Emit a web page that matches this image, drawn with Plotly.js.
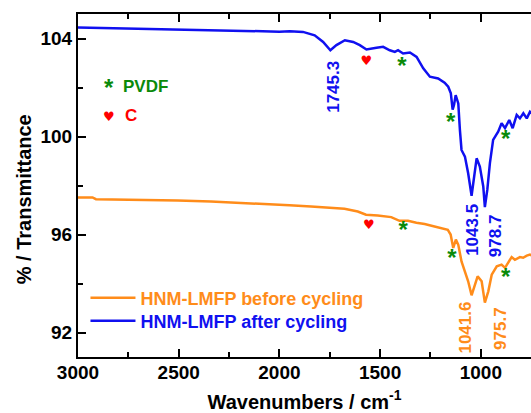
<!DOCTYPE html>
<html>
<head>
<meta charset="utf-8">
<script src="https://cdn.plot.ly/plotly-3.0.1.min.js"></script>
<style>
html,body{margin:0;padding:0;background:#fff;}
#chart{width:531px;height:413px;}
</style>
</head>
<body>
<div id="chart"></div>
<script>
// ---- data ----
const wnAfter = [3000,2900,2800,2700,2600,2500,2400,2300,2200,2100,2000,1949,1883,1825,1783,1747,1717,1675,1634,1601,1568,1518,1485,1452,1427,1411,1386,1352,1319,1286,1253,1212,1180,1162,1149,1140,1133,1125,1112,1104,1096,1079,1063,1046,1035,1021,1005,988,980,968,955,939,914,897,880,859,842,822,806,789,772,756,748];
const tAfter = [104.45,104.43,104.41,104.39,104.37,104.35,104.33,104.31,104.29,104.27,104.28,104.30,104.27,104.13,103.86,103.52,103.73,103.93,103.86,103.73,103.55,103.62,103.66,103.52,103.45,103.52,103.39,103.43,103.25,102.78,102.44,102.37,102.20,102.03,101.76,101.10,101.30,101.69,101.35,100.27,99.45,99.18,98.50,97.58,98.23,99.11,98.77,97.96,97.12,97.82,98.91,99.86,100.20,100.54,100.34,100.67,100.34,100.88,100.74,100.95,100.74,101.01,100.95];

const wnBefore = [3000,2928,2911,2800,2671,2505,2340,2200,2091,1950,1843,1750,1677,1611,1570,1512,1445,1404,1362,1320,1279,1240,1197,1164,1150,1137,1124,1112,1096,1079,1063,1046,1030,1016,996,980,963,946,921,897,880,864,847,831,806,790,772,756,748];
const tBefore = [97.51,97.51,97.44,97.43,97.42,97.39,97.35,97.30,97.24,97.19,97.14,97.10,97.05,96.94,96.81,96.78,96.71,96.56,96.56,96.48,96.43,96.35,96.26,96.19,96.00,95.45,95.79,95.58,94.90,94.50,94.09,93.52,93.95,94.29,94.09,93.22,93.68,94.36,94.70,94.77,94.64,94.84,95.08,94.97,95.08,95.05,95.14,95.18,95.15];

const seriesNames = ["HNM-LMFP before cycling","HNM-LMFP after cycling"];

// PVDF (*) and carbon (♥) marks
const pvdfWn = [1392,1150,877,1386,1144,877];
const pvdfT  = [102.79,100.51,99.82,96.10,94.94,94.19];
const carbonWn = [1568,1556];
const carbonT  = [103.05,96.37];

// peak labels
const peakText  = ["1745.3","1043.5","978.7","1041.6","975.7"];
const peakWn    = [1735,1039,930,1074,903];
const peakT     = [102.02,96.19,95.97,92.20,92.16];
const peakColor = ["#1010f0","#1010f0","#1010f0","#ff8c1a","#ff8c1a"];

const xTickVals = [3000,2500,2000,1500,1000];
const yTickVals = [92,96,100,104];

// ---- styles ----
const BLUE = "#1010f0", ORANGE = "#ff8c1a", GREEN = "#0a8a0a", RED = "#ff0000";
const FONT = "Liberation Sans, Arial, sans-serif";

const traces = [
  {x: wnBefore, y: tBefore, mode: "lines", legend: "legend",
   name: '<span style="color:'+ORANGE+'">'+seriesNames[0]+'</span>',
   line: {color: ORANGE, width: 2.5}},
  {x: wnAfter, y: tAfter, mode: "lines", legend: "legend2",
   name: '<span style="color:'+BLUE+'">'+seriesNames[1]+'</span>',
   line: {color: BLUE, width: 2.5}},
  {x: pvdfWn, y: pvdfT, mode: "text", text: pvdfWn.map(() => "*"), showlegend: false,
   textfont: {family: FONT, size: 24, color: GREEN, weight: "bold"}, textposition: "middle center", hoverinfo: "skip"},
  {x: carbonWn, y: carbonT, mode: "text", text: carbonWn.map(() => "♥"), showlegend: false,
   textfont: {family: "DejaVu Sans", size: 13, color: RED}, textposition: "middle center", hoverinfo: "skip"}
];

const annotations = peakText.map((t, i) => ({
  x: peakWn[i], y: peakT[i], xref: "x", yref: "y", text: t, showarrow: false,
  textangle: -90, font: {family: FONT, size: 17, color: peakColor[i], weight: "bold"},
  xanchor: "center", yanchor: "middle"
}));

annotations.push(
  {x: 2848, y: 101.98, xref: "x", yref: "y", text: "*", showarrow: false,
   font: {family: FONT, size: 24, color: GREEN, weight: "bold"}},
  {x: 2665, y: 102.06, xref: "x", yref: "y", text: "PVDF", showarrow: false,
   font: {family: FONT, size: 17, color: GREEN, weight: "bold"}},
  {x: 2845, y: 100.80, xref: "x", yref: "y", text: "♥", showarrow: false,
   font: {family: "DejaVu Sans", size: 13, color: RED}},
  {x: 2737, y: 100.84, xref: "x", yref: "y", text: "C", showarrow: false,
   font: {family: FONT, size: 17, color: RED, weight: "bold"}},
  {x: -0.119, y: 0.46, xref: "paper", yref: "paper", text: "% / Transmittance", showarrow: false,
   textangle: -90, font: {family: FONT, size: 20, color: "#000", weight: "bold"},
   xanchor: "center", yanchor: "middle"}
);

const axisCommon = {
  showline: true, linecolor: "#000", linewidth: 2, showgrid: false, zeroline: false,
  ticks: "inside", ticklen: 8, tickwidth: 2, tickcolor: "#000",
  tickfont: {family: FONT, size: 19, color: "#000", weight: "bold"}
};

const legendCommon = {xanchor: "left", yanchor: "top", bgcolor: "rgba(0,0,0,0)",
  font: {family: FONT, size: 18, color: "#000", weight: "bold"}, itemwidth: 45};

const layout = {
  width: 531, height: 413,
  margin: {l: 78, r: 0, t: 14, b: 56},
  paper_bgcolor: "#fff", plot_bgcolor: "#fff",
  showlegend: true,
  legend: Object.assign({x: 0.0165, y: 0.226}, legendCommon),
  legend2: Object.assign({x: 0.0165, y: 0.159}, legendCommon),
  xaxis: Object.assign({}, axisCommon, {
    range: [3000, 751], tickvals: xTickVals, mirror: "ticks", ticklabelstandoff: -3,
    minor: {dtick: 250, ticks: "inside", ticklen: 5, tickwidth: 2, tickcolor: "#000"},
    title: {text: "Wavenumbers / cm<sup>-1</sup>", font: {family: FONT, size: 20, color: "#000", weight: "bold"}, standoff: 13}
  }),
  yaxis: Object.assign({}, axisCommon, {
    range: [91, 105], tickvals: yTickVals, mirror: false,
    minor: {dtick: 2, tick0: 92, ticks: "inside", ticklen: 5, tickwidth: 2, tickcolor: "#000"}
  }),
  annotations: annotations
};

Plotly.newPlot("chart", traces, layout, {displayModeBar: false, staticPlot: true});
</script>
</body>
</html>
